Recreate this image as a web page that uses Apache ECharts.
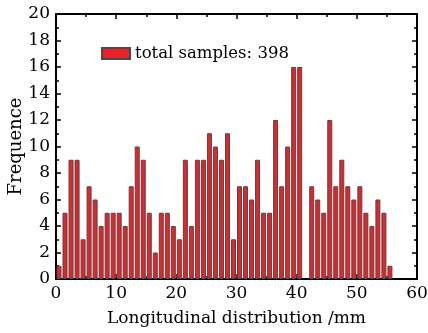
<!DOCTYPE html>
<html>
<head>
<meta charset="utf-8">
<script src="https://cdn.jsdelivr.net/npm/echarts@6/dist/echarts.min.js"></script>
<style>
html,body{margin:0;padding:0;background:#fff;}
#c{width:428px;height:333px;}
</style>
</head>
<body>
<div id="c"></div>
<script>
// bin start positions (mm) and counts
var binStarts = [0,1,2,3,4,5,6,7,8,9,10,11,12,13,14,15,16,17,18,19,20,21,22,23,24,25,26,27,28,29,30,31,32,33,34,35,36,37,38,39,40,42,43,44,45,46,47,48,49,50,51,52,53,54,55];
var counts    = [1,5,9,9,3,7,6,4,5,5,5,4,7,10,9,5,2,5,5,4,3,9,4,9,9,11,10,9,11,3,7,7,6,9,5,5,12,7,10,16,16,7,6,5,12,7,9,7,6,7,5,4,6,5,1];
var seriesName = 'total samples: 398';
var xTitle = 'Longitudinal distribution /mm';
var yTitle = 'Frequence';

var data = binStarts.map(function(s, i){ return [s + 0.5, counts[i]]; });
var font = 'DejaVu Serif';
var chart = echarts.init(document.getElementById('c'));
function line(){ return {show:true, onZero:false, lineStyle:{color:'#000', width:2}}; }
function tick(){ return {show:true, inside:true, length:5, lineStyle:{color:'#000', width:1.5}}; }
function minor(){ return {show:true, splitNumber:2, length:3, lineStyle:{color:'#000', width:1.5}}; }
chart.setOption({
  animation:false,
  backgroundColor:'#fff',
  grid:{left:56, right:11, top:14, bottom:54, containLabel:false, outerBoundsMode:'none'},
  legend:{
    data:[seriesName], left:96, top:40, itemWidth:28, itemHeight:11, itemGap:5,
    icon:'rect',
    textStyle:{fontFamily:font, fontSize:16.5, color:'#000'}
  },
  xAxis:[{
    type:'value', min:0, max:60, interval:10, position:'bottom',
    axisLine:line(), axisTick:tick(), minorTick:minor(),
    axisLabel:{fontFamily:font, fontSize:17, color:'#000', margin:6},
    splitLine:{show:false},
    name:xTitle, nameLocation:'middle', nameGap:31, nameMoveOverlap:false,
    nameTextStyle:{fontFamily:font, fontSize:17, color:'#000'}
  },{
    type:'value', min:0, max:60, interval:10, position:'top',
    axisLine:line(), axisTick:tick(), minorTick:minor(),
    axisLabel:{show:false}, splitLine:{show:false}
  }],
  yAxis:[{
    type:'value', min:0, max:20, interval:2, position:'left',
    axisLine:line(), axisTick:tick(), minorTick:minor(),
    axisLabel:{fontFamily:font, fontSize:17, color:'#000', margin:6},
    splitLine:{show:false},
    name:yTitle, nameLocation:'middle', nameGap:31, nameRotate:90, nameMoveOverlap:false,
    nameTextStyle:{fontFamily:font, fontSize:18, color:'#000'}
  },{
    type:'value', min:0, max:20, interval:2, position:'right',
    axisLine:line(), axisTick:tick(), minorTick:minor(),
    axisLabel:{show:false}, splitLine:{show:false}
  }],
  series:[{
    name:seriesName, type:'bar', xAxisIndex:0, yAxisIndex:0,
    data:data, barWidth:5,
    itemStyle:{color:'#ea2227', borderColor:'#4a4a4a', borderWidth:1}
  }]
});
</script>
</body>
</html>
